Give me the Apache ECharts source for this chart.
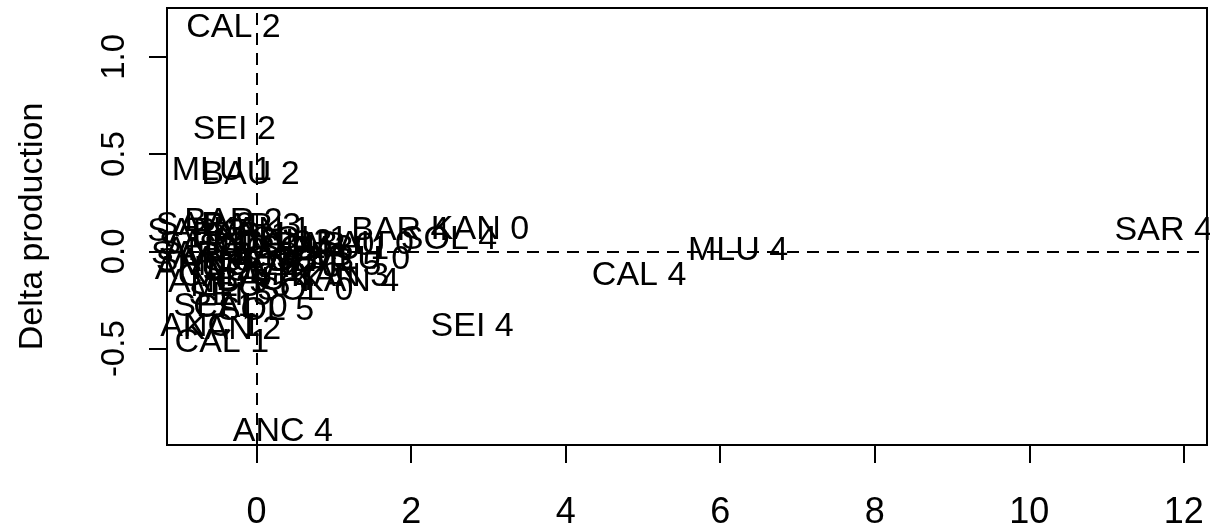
<!DOCTYPE html>
<html>
<head>
<meta charset="utf-8">
<script src="https://cdn.jsdelivr.net/npm/echarts@6/dist/echarts.min.js"></script>
<style>
  html, body { margin: 0; padding: 0; background: #fff; }
  #chart { width: 1210px; height: 531px; }
</style>
</head>
<body>
<div id="chart"></div>
<script>
// site + treatment labels, x = delta (x axis), y = delta production
const labels = [
  'CAL 2', 'SEI 2', 'MLU 1', 'BAU 2', 'SAR 4', 'MLU 4', 'CAL 4', 'SEI 4', 'ANC 4',
  'BAR 4', 'KAN 0', 'SOL 4', 'BAU 0', 'CAL 1',
  'SAR 2', 'BAR 2', 'BAR 3', 'KAN 1', 'BAR 1', 'SAR 0', 'ANC 0', 'SEI 0', 'MLU 3',
  'CAL 3', 'SOL 3', 'BAR 0', 'BAU 1', 'SOL 1', 'MLU 0', 'SAR 5', 'MLU 2', 'ANC 3',
  'BAU 3', 'KAN 5', 'SEI 3', 'BAR 5', 'KAN 3', 'KAN 4', 'ANC 5', 'MLU 5', 'BAU 4',
  'SOL 0', 'SEI 5', 'SEI 1', 'CAL 0', 'SOL 5', 'ANC 1', 'KAN 2', 'SAR 1', 'ANC 2',
  'CAL 5', 'SOL 2', 'BAU 5', 'SAR 3'
]
const xValues = [
  -0.30, -0.29, -0.45, -0.08, 11.74, 6.23, 4.95, 2.79, 0.34,
  1.86, 2.89, 2.49, 1.40, -0.45,
  -0.67, -0.30, -0.06, 0.07, -0.21, -0.63, -0.54, -0.21, 0.07,
  0.37, 0.63, 0.89, 1.08, 0.56, 1.34, -0.67, -0.37, -0.15,
  0.15, 0.46, 0.72, 0.98, 1.08, 1.21, -0.50, -0.21, 0.11,
  0.63, -0.34, -0.54, -0.21, 0.12, -0.60, -0.32, -0.73, -0.67,
  -0.41, -0.08, 0.30, -0.78
]
const yValues = [
  1.149, 0.626, 0.415, 0.395, 0.108, 0.005, -0.123, -0.385, -0.928,
  0.108, 0.113, 0.062, 0.036, -0.467,
  0.133, 0.154, 0.128, 0.108, 0.082, 0.036, 0.005, 0.026, 0.041,
  0.046, 0.015, 0.031, 0.010, 0.062, -0.041, -0.051, -0.072, -0.041,
  -0.051, -0.082, -0.051, -0.072, -0.128, -0.154, -0.159, -0.179, -0.149,
  -0.200, -0.226, -0.282, -0.287, -0.303, -0.385, -0.400, -0.015, -0.092,
  -0.128, -0.103, -0.021, 0.103
]
const xTicks = [0, 2, 4, 6, 8, 10, 12]
const yTicks = [-0.5, 0, 0.5, 1.0]

const font = 'Liberation Sans, Arial, Helvetica, sans-serif'
const chart = echarts.init(document.getElementById('chart'), null, { renderer: 'canvas' })

const points = labels.map((name, i) => [xValues[i], yValues[i], name])

const option = {
  animation: false,
  backgroundColor: '#fff',
  grid: {
    left: 167, right: 3, top: 8, bottom: 85,
    show: true, borderColor: '#000', borderWidth: 2
  },
  xAxis: {
    type: 'value',
    min: -1.16, max: 12.30,
    axisLine: { show: false, onZero: false },
    splitLine: { show: false },
    axisTick: { show: true, customValues: xTicks, length: 18, lineStyle: { color: '#000', width: 2 } },
    axisLabel: {
      customValues: xTicks, color: '#000', fontSize: 36, fontFamily: font, margin: 50
    }
  },
  yAxis: {
    type: 'value',
    min: -0.995, max: 1.251,
    name: 'Delta production',
    nameLocation: 'middle',
    nameRotate: 90,
    nameGap: 117,
    nameTextStyle: { color: '#000', fontSize: 34, fontFamily: font },
    axisLine: { show: false, onZero: false },
    splitLine: { show: false },
    axisTick: { show: true, customValues: yTicks, length: 18, lineStyle: { color: '#000', width: 2 } },
    axisLabel: {
      customValues: yTicks, color: '#000', fontSize: 33, fontFamily: font,
      rotate: 90, margin: 36,
      formatter: v => v.toFixed(1)
    }
  },
  series: [
    {
      type: 'scatter',
      data: points,
      symbolSize: 1,
      itemStyle: { color: 'rgba(0,0,0,0)', opacity: 1 },
      label: {
        show: true,
        position: 'inside',
        formatter: p => p.data[2],
        color: '#000',
        opacity: 1,
        fontSize: 34,
        fontFamily: font,
        align: 'center',
        verticalAlign: 'middle'
      },
      markLine: {
        silent: true,
        symbol: 'none',
        label: { show: false },
        lineStyle: { color: '#000', width: 2, type: [12, 8], opacity: 1 },
        data: [{ xAxis: 0 }, { yAxis: 0 }]
      }
    }
  ]
}

chart.setOption(option)
window.addEventListener('resize', () => chart.resize())
</script>
</body>
</html>
